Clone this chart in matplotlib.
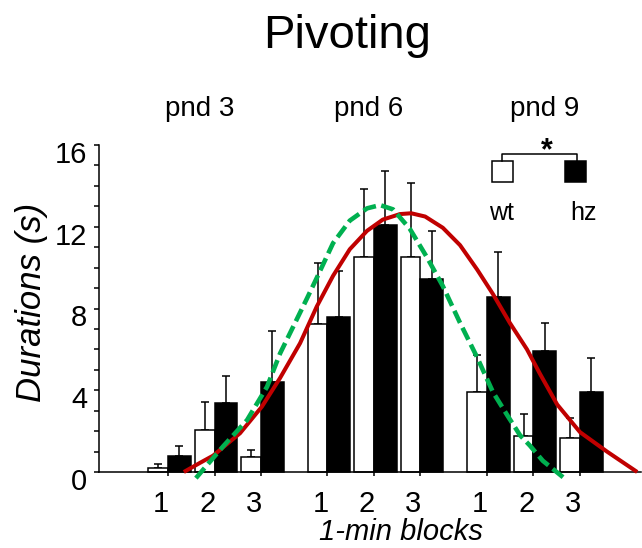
import matplotlib
matplotlib.use("Agg")
import matplotlib.pyplot as plt
import numpy as np
from matplotlib.patches import Rectangle
from matplotlib.lines import Line2D
import matplotlib.transforms as mtransforms

plt.rcParams['font.family'] = ['Liberation Sans', 'DejaVu Sans']

# ---------------- data ----------------
title = "Pivoting"
groups = ["pnd 3", "pnd 6", "pnd 9"]
blocks = ["1", "2", "3"]
xlabel = "1-min blocks"
ylabel = "Durations (s)"
series_names = ["wt", "hz"]

wt_mean = [0.21, 2.05, 0.75, 7.22, 10.5, 10.5, 3.9, 1.76, 1.65]
wt_err = [0.18, 1.37, 0.33, 3.0, 3.33, 3.65, 1.82, 1.08, 1.01]
hz_mean = [0.78, 3.36, 4.42, 7.57, 12.08, 9.44, 8.55, 5.92, 3.93]
hz_err = [0.49, 1.34, 2.48, 2.26, 2.63, 2.35, 2.23, 1.35, 1.66]

# fitted curves (x in block-position units)
red_x = [0.34, 0.69, 0.97, 1.55, 2.02, 2.41, 2.84, 3.20, 3.55, 3.91, 4.28, 4.62,
         4.99, 5.23, 5.53, 5.91, 6.28, 6.65, 6.99, 7.35, 7.72, 8.00, 8.37, 8.86,
         9.44, 10.09]
red_y = [0.0, 0.45, 0.8, 1.9, 3.2, 4.6, 6.3, 8.1, 9.6, 10.9, 11.8, 12.35,
         12.62, 12.66, 12.5, 11.95, 11.1, 9.9, 8.7, 7.3, 6.0, 4.8, 3.3, 1.95,
         1.0, 0.0]
green_x = [0.60, 1.18, 1.70, 2.13, 2.41, 2.69, 2.99, 3.20, 3.55, 3.91, 4.28,
           4.56, 4.84, 5.20, 5.57, 5.91, 6.28, 6.65, 6.99, 7.29, 7.57, 7.78,
           8.06, 8.52]
green_y = [-0.3, 1.24, 2.54, 4.17, 5.8, 7.1, 8.5, 9.5, 11.2, 12.3, 12.9,
           13.06, 12.85, 11.9, 10.5, 9.1, 7.3, 5.6, 3.9, 2.8, 1.8, 1.3, 0.55,
           -0.3]

# ---------------- layout ----------------
W, H = 642, 548
fig = plt.figure(figsize=(W / 100, H / 100), dpi=100)

def fx(px):
    return px / W

def fy(py):
    return 1 - py / H

group_gap = 3.43
pos = np.array([g * group_gap + b for g in range(len(groups)) for b in range(len(blocks))])

# axes: y=0 at px 472, y=16 at px 145; x position 0 at px 168, 46.5 px/unit
ppu_y = (472 - 145) / 16.0
ylo, yhi = -1.0, 16.4
bottom_px = 472 + (0 - ylo) * ppu_y
top_px = 472 - yhi * ppu_y
ppu_x = 46.5
left_px, right_px = 99, 641
ax = fig.add_axes([fx(left_px), fy(bottom_px), (right_px - left_px) / W, (bottom_px - top_px) / H])
ax.set_ylim(ylo, yhi)
ax.set_xlim((left_px - 168) / ppu_x, (right_px - 168) / ppu_x)

w_wt, w_hz = 0.42, 0.49
ax.bar(pos - w_wt, wt_mean, width=w_wt, align='edge', color='white',
       edgecolor='black', linewidth=1.1, zorder=2)
ax.bar(pos, hz_mean, width=w_hz, align='edge', color='black',
       edgecolor='black', linewidth=1.1, zorder=2)
ax.errorbar(pos - w_wt / 2, wt_mean, yerr=[np.zeros(len(wt_err)), wt_err], fmt='none',
            ecolor='black', elinewidth=1.1, capsize=3, capthick=1.1, zorder=1.5)
ax.errorbar(pos + w_hz / 2, hz_mean, yerr=[np.zeros(len(hz_err)), hz_err], fmt='none',
            ecolor='black', elinewidth=1.1, capsize=3, capthick=1.1, zorder=1.5)

ax.plot(red_x, red_y, color='#C00000', linewidth=2.9, zorder=5,
        solid_capstyle='butt', solid_joinstyle='round')
ax.plot(green_x, green_y, color='#00B050', linewidth=3.3, zorder=6,
        linestyle=(0, (2.9, 1.2)), dash_capstyle='butt')

# spines
for s in ['top', 'right']:
    ax.spines[s].set_visible(False)
ax.spines['left'].set_bounds(0, 16)
ax.spines['bottom'].set_position(('data', 0))
ax.spines['left'].set_linewidth(1.1)
ax.spines['bottom'].set_linewidth(1.1)

ax.set_yticks([0, 4, 8, 12, 16])
ax.set_yticks(np.arange(0, 17, 1), minor=True)
ax.set_yticklabels(['0', '4', '8', '12', '16'])
ax.tick_params(axis='y', which='both', direction='out', length=3.6, width=1.1,
               labelsize=21, pad=5)
ax.set_xticks(pos)
ax.set_xticklabels(blocks * len(groups))
ax.tick_params(axis='x', which='major', direction='out', length=3, width=1.1,
               labelsize=21, pad=10)

for t in ax.yaxis.get_major_ticks():
    t.label1.set_transform(t.label1.get_transform() +
                           mtransforms.ScaledTranslation(0, -0.07, fig.dpi_scale_trans))
for t in ax.xaxis.get_major_ticks():
    t.label1.set_transform(t.label1.get_transform() +
                           mtransforms.ScaledTranslation(-0.07, 0, fig.dpi_scale_trans))

# texts
fig.text(fx(347), fy(48), title, ha='center', va='baseline', fontsize=34)
for g, cx in zip(groups, [200, 369, 545]):
    fig.text(fx(cx), fy(116), g, ha='center', va='baseline', fontsize=20)
fig.text(fx(401), fy(540), xlabel, ha='center', va='baseline', fontsize=21, style='italic')
fig.text(fx(32), fy(302), ylabel, ha='center', va='center', rotation=90,
         fontsize=25, style='italic')

# legend
fig.add_artist(Rectangle((fx(492), fy(182)), 21 / W, 21 / H, transform=fig.transFigure,
                         facecolor='white', edgecolor='black', linewidth=1.1))
fig.add_artist(Rectangle((fx(565), fy(182)), 21 / W, 21 / H, transform=fig.transFigure,
                         facecolor='black', edgecolor='black', linewidth=1.1))
fig.add_artist(Line2D([fx(502), fx(502), fx(577), fx(577)],
                      [fy(161), fy(154), fy(154), fy(161)],
                      transform=fig.transFigure, color='black', linewidth=1.1))
fig.text(fx(547), fy(159), "*", ha='center', va='baseline', fontsize=22, fontweight='bold')
fig.text(fx(501), fy(220), series_names[0], ha='center', va='baseline', fontsize=18)
fig.text(fx(583), fy(220), series_names[1], ha='center', va='baseline', fontsize=18)

fig.savefig("out.png", dpi=100)
